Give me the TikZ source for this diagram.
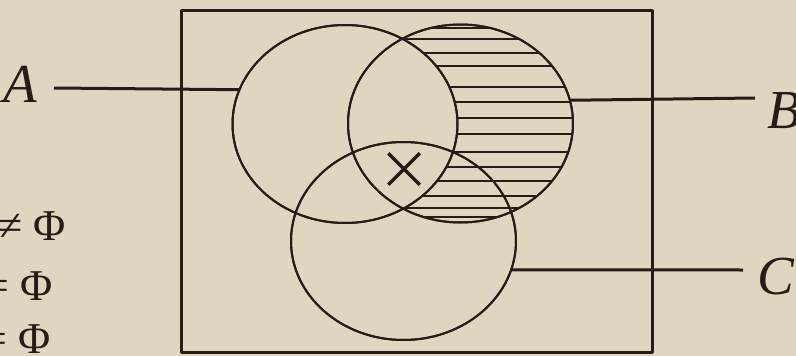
\documentclass[tikz,border=0pt]{standalone}
\usepackage{fontspec}
\setmainfont{Liberation Serif}
\usepackage{tikz}
\usetikzlibrary{shapes.geometric, shapes.misc, positioning}
\definecolor{VennPaper}{RGB}{222, 214, 191}
\definecolor{VennInk}{RGB}{38, 28, 22}

\begin{document}
\begin{tikzpicture}[
    x=1pt, y=-1pt, line join=round,
    setring/.style={ellipse, draw=VennInk, line width=2pt, inner sep=0pt, outer sep=0pt,
      minimum width=225pt, minimum height=198pt},
    hatch/.style={draw=VennInk, line width=1.3pt},
    lead/.style={draw=VennInk, line width=3pt},
    setlabel/.style={inner sep=0pt, text=VennInk, font=\fontsize{55}{60}\selectfont\itshape},
    relation/.style={inner sep=0pt, text=VennInk, font=\fontsize{44}{50}\selectfont}
  ]
  \useasboundingbox[fill=VennPaper] (0,0) rectangle (796,356);

  \node[setring] (A) at (345,124) {};
  \node[setring] (B) at (460.5,123.5) {};
  \node[setring] (C) at (403.5,241) {};

  \begin{scope}[even odd rule]
    \clip (B.center) ellipse [x radius=112.5pt, y radius=99pt];
    \clip (A.center) ellipse [x radius=112.5pt, y radius=99pt]
      (181,10) rectangle (652,352);
    \foreach \ly in {28, 39, 53, 66, 87, 102, 118, 134, 152, 167, 181, 196, 208, 217}
      \draw[hatch] (330,\ly) -- (600,\ly);
  \end{scope}

  \node[setring] at (A) {};
  \node[setring] at (B) {};
  \node[setring] at (C) {};

  \draw[draw=VennInk, line width=3pt] (181,10) rectangle (652,352);

  \node[cross out, draw=VennInk, line width=3.5pt, minimum size=28pt, inner sep=0pt] (mark) at (404,169) {};

  \coordinate (endA) at (54,88);
  \coordinate (endB) at (755,98);
  \coordinate (endC) at (743,270);
  \draw[lead] (endA) -- (A.162);
  \draw[lead] (B.12.6) -- (endB);
  \draw[lead] (C.-15.5) -- (endC);

  \node[setlabel, left=17pt of endA, yshift=4pt] (labA) {A};
  \node[setlabel, right=12pt of endB, yshift=-13pt] (labB) {B};
  \node[setlabel, right=14pt of endC, yshift=-7pt] (labC) {C};

  \node[relation, anchor=base east] (relAB) at (66,240) {≠ Φ};
  \node[relation, anchor=base east] (relAC) at (53,300) {= Φ};
  \node[relation, anchor=base east] (relBC) at (51,353) {= Φ};
\end{tikzpicture}
\end{document}
